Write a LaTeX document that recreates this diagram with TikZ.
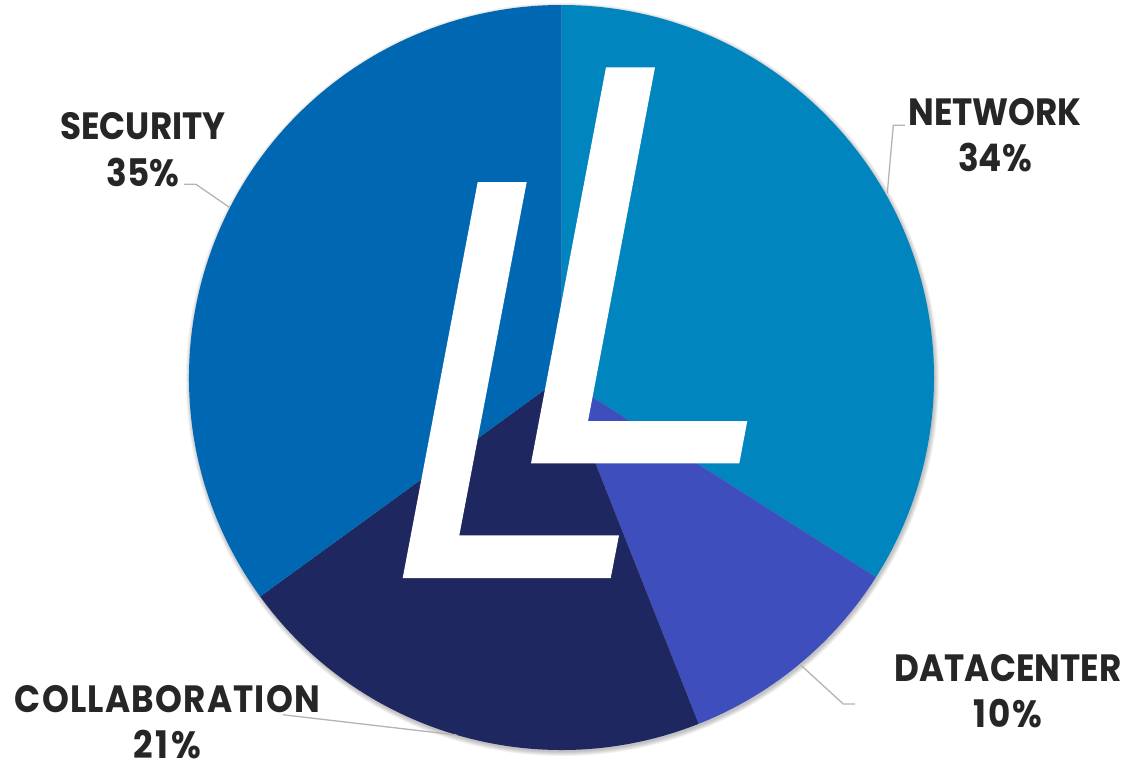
\documentclass[tikz,border=0pt]{standalone}
\usepackage{fontspec}
\setmainfont{Poppins}[FakeStretch=0.9]
\definecolor{secblue}{HTML}{0068B3}
\definecolor{netblue}{HTML}{0085BE}
\definecolor{dcblue}{HTML}{3E4EBC}
\definecolor{colnavy}{HTML}{1F2760}
\definecolor{labelink}{HTML}{262626}
\definecolor{leadergrey}{HTML}{B4B4B4}
\begin{document}
\begin{tikzpicture}[x=1pt,y=-1pt,
  lbl/.style={font=\fontsize{38}{46}\selectfont\bfseries,text=labelink,align=center,inner sep=0pt,anchor=base},
  leader/.style={draw=leadergrey,line width=1.3pt}]
\useasboundingbox (0,0) rectangle (1130,764);
\fill[white] (0,0) rectangle (1130,764);
\def\cx{561.5}\def\cy{377.5}\def\R{372.5}
% soft shadow
\foreach \k in {5,4,3,2,1}{
  \fill[black,opacity=0.05] (\cx+1,\cy+2) circle[radius=\R+\k-1];
}
% slices: y axis points down, so angles are measured clockwise from +x
\fill[netblue] (\cx,\cy) -- (\cx,\cy-\R) arc[start angle=-90,end angle=32.4,radius=\R] -- cycle;
\fill[dcblue] (\cx,\cy) -- ({\cx+\R*cos(32.4)},{\cy+\R*sin(32.4)}) arc[start angle=32.4,end angle=68.4,radius=\R] -- cycle;
\fill[colnavy] (\cx,\cy) -- ({\cx+\R*cos(68.4)},{\cy+\R*sin(68.4)}) arc[start angle=68.4,end angle=144,radius=\R] -- cycle;
\fill[secblue] (\cx,\cy) -- ({\cx+\R*cos(144)},{\cy+\R*sin(144)}) arc[start angle=144,end angle=270,radius=\R] -- cycle;
% logo
\fill[white] (477.7,182) -- (526.7,182) -- (459.3,535.3) -- (619,535.3) -- (610.7,578) -- (402.7,578) -- cycle;
\fill[white] (606,67.3) -- (655,67.3) -- (588,421) -- (747.3,421) -- (739.3,463.3) -- (531,463.3) -- cycle;
% labels
\node[lbl] (network) at (995,171.7) {NETWORK\\34\%};
\node[lbl] (datacenter) at (1008,727) {DATACENTER\\{\addfontfeature{LetterSpace=5}10\%}};
\node[lbl] (collaboration) at (167.5,758) {{\addfontfeature{LetterSpace=3.2}COLLABORATION}\\{\addfontfeature{LetterSpace=8}21\%}};
\node[lbl] (security) at (143,186) {SECURITY\\[1pt]35\%};
% leaders
\coordinate (netA) at (905,125.3);\coordinate (netB) at (893.3,125.3);\coordinate (netC) at (887.3,193);
\coordinate (dcA) at (855,704);\coordinate (dcB) at (843.3,704);\coordinate (dcC) at (800.7,665);
\coordinate (secA) at (184,184.3);\coordinate (secB) at (196,184.3);\coordinate (secC) at (229.3,207.3);
\coordinate (colA) at (282.7,714.7);\coordinate (colB) at (456.7,735);
\draw[leader] (netA) -- (netB) -- (netC);
\draw[leader] (dcA) -- (dcB) -- (dcC);
\draw[leader] (secA) -- (secB) -- (secC);
\draw[leader] (colA) -- (colB);
\end{tikzpicture}
\end{document}
